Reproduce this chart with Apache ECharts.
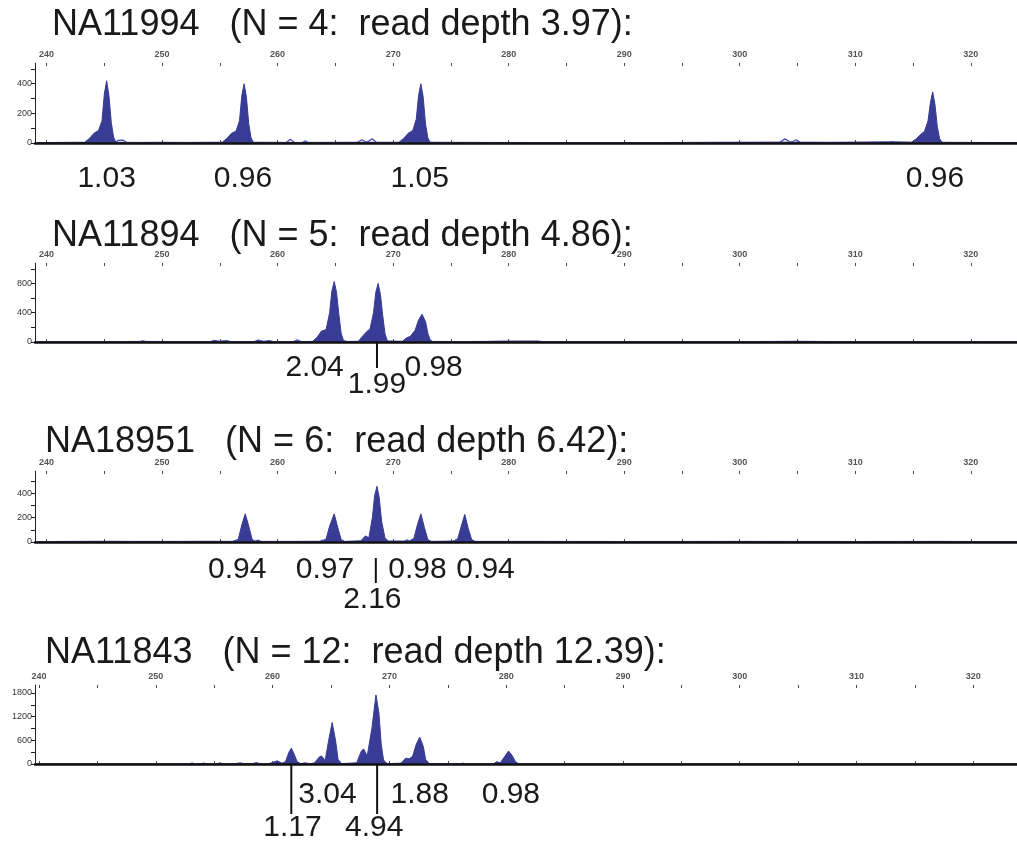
<!DOCTYPE html>
<html>
<head>
<meta charset="utf-8">
<style>
  html, body { margin: 0; padding: 0; background: #fff; }
  #chart { width: 1017px; height: 841px; }
</style>
</head>
<body>
<div id="chart"></div>
<script src="https://cdn.jsdelivr.net/npm/echarts@6/dist/echarts.min.js"></script>
<script>
// sample info
const samples = ['NA11994', 'NA11894', 'NA18951', 'NA11843']
const copyN = [4, 5, 6, 12]
const readDepth = ['3.97', '4.86', '6.42', '12.39']

// axis ticks
const xTickValues = [240, 245, 250, 255, 260, 265, 270, 275, 280, 285, 290, 295, 300, 305, 310, 315, 320]
const xTickLabels = [240, 250, 260, 270, 280, 290, 300, 310, 320]
const yTickLabels = [[0, 200, 400], [0, 400, 800], [0, 200, 400], [0, 600, 1200, 1800]]
const yTickValues = [
  [0, 100, 200, 300, 400, 500],
  [0, 200, 400, 600, 800, 1000],
  [0, 100, 200, 300, 400, 500],
  [0, 300, 600, 900, 1200, 1500, 1800]
]
const yMax = [540, 1080, 580, 2000]
const xRange = [[239, 324], [239, 324], [239, 324], [239.65, 323.75]]

// filled trace [size, height]
const filled1 = [[239.3,3],[241,4],[242.5,5],[243.3,5],[243.7,30],[244.1,65],[244.5,85],[244.8,150],[245.0,330],[245.2,420],[245.4,320],[245.6,140],[245.8,40],[246.0,5],[248,4],[250,5],[252,4],[254,5],[255.2,5],[255.6,30],[256.0,65],[256.4,80],[256.7,150],[256.9,320],[257.1,400],[257.3,310],[257.5,130],[257.7,35],[257.9,5],[262,4],[266,5],[270.5,5],[270.9,30],[271.3,65],[271.7,85],[272.0,160],[272.2,320],[272.4,400],[272.6,310],[272.8,130],[273.0,35],[273.2,5],[278,4],[285,3],[292,3],[298,5],[303,6],[308,5],[313,8],[314.9,6],[315.3,30],[315.7,60],[316.0,80],[316.3,150],[316.5,270],[316.7,345],[316.9,260],[317.1,110],[317.3,30],[317.5,5],[320,4],[324,3]]
const filled2 = [[239.3,3],[244,4],[248,8],[249,8],[253,5],[258,6],[262,5],[263.0,8],[263.4,60],[263.8,150],[264.2,170],[264.5,400],[264.7,700],[264.9,827],[265.1,680],[265.3,380],[265.5,120],[265.7,20],[266,8],[267.0,10],[267.3,70],[267.7,140],[268.0,180],[268.3,400],[268.5,680],[268.7,800],[268.9,650],[269.1,360],[269.3,110],[269.5,15],[270.8,10],[271.1,50],[271.5,80],[271.9,160],[272.2,300],[272.5,380],[272.8,280],[273.0,120],[273.2,30],[273.4,8],[276,6],[278,8],[279.3,12],[282.5,14],[283,6],[290,4],[300,5],[305,10],[310,4],[324,3]]
const filled3 = [[239.3,3],[242,5],[245,6],[248,5],[251,5],[254,6],[256.3,5],[256.6,25],[256.9,140],[257.2,230],[257.5,130],[257.8,20],[258.1,5],[261,5],[263.8,6],[264.2,25],[264.5,130],[264.9,230],[265.2,120],[265.5,20],[265.8,5],[267.2,10],[267.6,50],[267.9,35],[268.2,200],[268.4,380],[268.6,455],[268.8,360],[269.0,170],[269.3,30],[269.6,8],[271.4,8],[271.8,30],[272.1,140],[272.4,230],[272.7,120],[273.0,20],[273.3,5],[275.3,8],[275.6,30],[275.9,130],[276.2,225],[276.5,110],[276.8,20],[277.1,5],[282,5],[290,4],[300,5],[310,4],[317,5],[324,3]]
const filled4 = [[239.7,0],[252.8,0],[253.1,25],[253.4,0],[253.8,0],[254.1,25],[254.4,0],[255.2,0],[255.5,30],[255.8,0],[259.6,0],[260.0,40],[260.4,80],[260.8,20],[261.1,60],[261.4,300],[261.6,400],[261.8,280],[262.1,60],[262.4,10],[262.8,30],[263.2,5],[263.6,30],[264.0,180],[264.2,200],[264.5,90],[264.8,600],[265.1,1050],[265.4,580],[265.6,120],[265.9,10],[267.2,30],[267.6,330],[267.8,380],[268.1,200],[268.5,900],[268.85,1750],[269.1,1300],[269.3,500],[269.5,100],[269.8,10],[271.0,20],[271.4,150],[271.7,130],[272.0,200],[272.3,500],[272.6,680],[272.9,450],[273.1,120],[273.4,10],[276.1,0],[276.3,25],[276.5,0],[278.9,0],[279.2,60],[279.5,30],[279.9,200],[280.2,330],[280.5,220],[280.8,60],[281.1,0],[323.8,0]]

// open (outline) trace
const open1 = [[245.9,0],[246.2,18],[246.6,20],[247,0],[260.7,0],[261.1,25],[261.5,0],[262.1,0],[262.4,15],[262.7,0],[266.8,0],[267.3,22],[267.7,5],[268.2,28],[268.6,0],[303.4,0],[303.9,28],[304.4,5],[304.9,22],[305.3,0],[312.9,0],[313.2,10],[313.5,0]]
const open2 = [[248.0,0],[248.3,15],[248.7,0],[254.1,0],[254.5,22],[255,10],[255.6,18],[256,0],[257.9,0],[258.3,25],[258.8,8],[259.3,18],[259.7,0],[261.3,0],[261.7,28],[262.1,0]]
const open3 = [[256.0,0],[256.4,15],[256.7,0],[257.9,0],[258.3,15],[258.7,0],[263.6,0],[263.9,15],[264.2,0],[270.9,0],[271.2,18],[271.5,0],[275.1,0],[275.4,15],[275.7,0]]
const open4 = [[256.8,0],[257.2,30],[257.6,0],[258.2,0],[258.6,35],[259,0]]

// peak ratios: [size, text, row]
const ratios1 = [[245.2, '1.03', 0], [257.0, '0.96', 0], [272.3, '1.05', 0], [316.9, '0.96', 0]]
const ratios2 = [[263.2, '2.04', 0], [268.6, '1.99', 1], [273.5, '0.98', 0]]
const ratios3 = [[256.5, '0.94', 0], [264.1, '0.97', 0], [272.1, '0.98', 0], [278.0, '0.94', 0], [268.2, '2.16', 1]]
const ratios4 = [[264.7, '3.04', 0], [272.6, '1.88', 0], [280.4, '0.98', 0], [261.7, '1.17', 1], [268.7, '4.94', 1]]
// marker lines: [size, panel]
const markers = [[268.6, 1], [268.5, 2], [261.6, 3], [268.95, 3]]

const filled = [filled1, filled2, filled3, filled4]
const open = [open1, open2, open3, open4]
const ratios = [ratios1, ratios2, ratios3, ratios4]

// layout
const gridTop = [63, 263, 471, 685]
const gridHeight = [80, 79, 71, 79]
const titleX = [52, 52, 45, 45]
const titleY = [25, 236, 442, 653]
const rowOffset = [[36, 36], [26, 43], [28, 58], [31, 64]]
const markerSpan = [null, [0, 26], [16, 41], [0, 50]]
const fillColor = '#393c94'
const font = '"Liberation Sans", Arial, sans-serif'

const chart = echarts.init(document.getElementById('chart'))

const grid = []
const xAxis = []
const yAxis = []
const series = []

samples.forEach((s, i) => {
  grid.push({ left: 35, right: 0, top: gridTop[i], height: gridHeight[i] })
  const [min, max] = xRange[i]
  // top scale with labels
  xAxis.push({
    gridIndex: i, type: 'value', position: 'top', min, max,
    axisLine: { lineStyle: { color: '#6e6763', width: 1.5 } },
    axisTick: { customValues: xTickValues, length: 3, lineStyle: { color: '#4a4a4a' } },
    axisLabel: { customValues: xTickLabels, fontSize: 9, color: '#555', margin: 4, fontFamily: font, fontWeight: 'bold' },
    splitLine: { show: false }
  })
  // inner half of the ticks
  xAxis.push({
    gridIndex: i, type: 'value', position: 'top', min, max,
    axisLine: { show: false },
    axisTick: { customValues: xTickValues, inside: true, length: 3, lineStyle: { color: '#4a4a4a' } },
    axisLabel: { show: false },
    splitLine: { show: false }
  })
  // baseline
  xAxis.push({
    gridIndex: i, type: 'value', position: 'bottom', min, max, z: 5,
    axisLine: { lineStyle: { color: '#111', width: 2.5 } },
    axisTick: { show: false },
    axisLabel: { show: false },
    splitLine: { show: false }
  })
  yAxis.push({
    gridIndex: i, type: 'value', min: 0, max: yMax[i],
    axisLine: { show: true, lineStyle: { color: '#222', width: 1 } },
    axisTick: { show: true, customValues: yTickValues[i], length: 4, lineStyle: { color: '#222' } },
    axisLabel: {
      customValues: yTickLabels[i], fontSize: 9, color: '#333', margin: 3, fontFamily: font,
      formatter: v => String(v)
    },
    splitLine: { show: false }
  })
  series.push({
    type: 'line', xAxisIndex: i * 3 + 2, yAxisIndex: i, data: filled[i],
    showSymbol: false, z: 2,
    lineStyle: { width: 1, color: fillColor },
    itemStyle: { color: fillColor },
    areaStyle: { color: fillColor, opacity: 1 }
  })
  series.push({
    type: 'line', xAxisIndex: i * 3 + 2, yAxisIndex: i, data: open[i],
    showSymbol: false, z: 3,
    lineStyle: { width: 1.3, color: '#4b4db3' },
    itemStyle: { color: '#4b4db3' }
  })
})

chart.setOption({ animation: false, grid, xAxis, yAxis, series })

// titles and ratio labels
const graphic = []
samples.forEach((s, i) => {
  graphic.push({
    type: 'text', x: titleX[i], y: titleY[i],
    style: {
      text: `${s}   (N = ${copyN[i]}:  read depth ${readDepth[i]}):`,
      fontSize: 36, fontFamily: font, fill: '#1a1a1a', verticalAlign: 'middle'
    }
  })
  ratios[i].forEach(([x, text, row]) => {
    const p = chart.convertToPixel({ xAxisIndex: i * 3 + 2, yAxisIndex: i }, [x, 0])
    graphic.push({
      type: 'text', x: p[0], y: p[1] + rowOffset[i][row],
      style: { text, fontSize: 30, fontFamily: font, fill: '#1a1a1a', align: 'center', verticalAlign: 'middle' }
    })
  })
})
markers.forEach(([x, i]) => {
  const p = chart.convertToPixel({ xAxisIndex: i * 3 + 2, yAxisIndex: i }, [x, 0])
  graphic.push({
    type: 'line', z: 10,
    shape: { x1: p[0], y1: p[1] + markerSpan[i][0], x2: p[0], y2: p[1] + markerSpan[i][1] },
    style: { stroke: '#111', lineWidth: 2 }
  })
})
chart.setOption({ graphic })
</script>
</body>
</html>
